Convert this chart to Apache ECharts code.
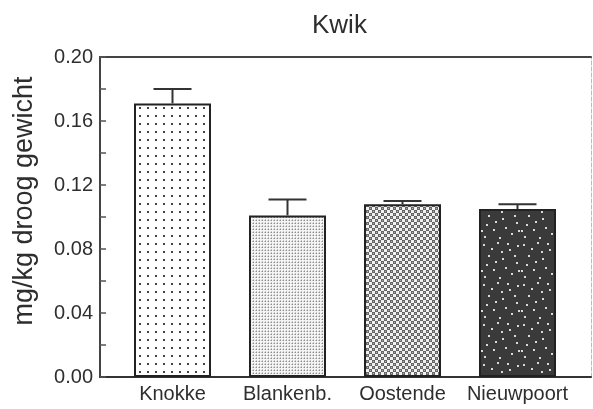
<!DOCTYPE html>
<html>
<head>
<meta charset="utf-8">
<script src="https://cdn.jsdelivr.net/npm/echarts@6/dist/echarts.min.js"></script>
<style>
  html, body { margin: 0; padding: 0; background: #fff; }
  #kwik { width: 593px; height: 409px; }
</style>
</head>
<body>
<div id="kwik"></div>
<script>
  var categories = ['Knokke', 'Blankenb.', 'Oostende', 'Nieuwpoort'];
  var means = [0.171, 0.101, 0.108, 0.105];
  var errTops = [0.180, 0.111, 0.110, 0.108];
  var yTicks = [0.00, 0.04, 0.08, 0.12, 0.16, 0.20];

  // pattern tiles drawn on small canvases
  function tile(w, h, bg, draw) {
    var c = document.createElement('canvas');
    c.width = w; c.height = h;
    var ctx = c.getContext('2d');
    ctx.fillStyle = bg;
    ctx.fillRect(0, 0, w, h);
    draw(ctx);
    return c;
  }
  var dotsSparse = tile(8, 8, '#ffffff', function (ctx) {
    ctx.fillStyle = '#444';
    ctx.fillRect(3, 3, 2, 2);
  });
  var gridFine = tile(3, 3, '#f4f4f4', function (ctx) {
    ctx.fillStyle = '#8c8c8c';
    ctx.fillRect(1, 1, 1, 1);
    ctx.fillStyle = '#c4c4c4';
    ctx.fillRect(0, 1, 1, 1);
    ctx.fillRect(1, 0, 1, 1);
  });
  var checker = tile(6, 6, '#f2f2f2', function (ctx) {
    ctx.fillStyle = '#666';
    ctx.fillRect(0, 0, 3, 3);
    ctx.fillRect(3, 3, 3, 3);
    ctx.fillStyle = '#b0b0b0';
    ctx.fillRect(1, 1, 1, 1);
    ctx.fillRect(4, 4, 1, 1);
  });
  var speckle = tile(40, 40, '#3a3a3a', function (ctx) {
    var pts = [[3,4],[17,2],[29,9],[36,22],[8,15],[22,18],[13,29],[31,33],[4,36],[25,27],[37,5],[11,8],[19,37],[34,15],[6,24],[27,3],[15,21],[38,30],[1,30],[21,11]];
    ctx.fillStyle = '#d8d8d8';
    pts.forEach(function (p) { ctx.fillRect(p[0], p[1], 2, 2); });
  });
  var fills = [dotsSparse, gridFine, checker, speckle];

  var chart = echarts.init(document.getElementById('kwik'));
  var txt = '#2e2e2e';
  var font = 'Liberation Sans, Arial, sans-serif';

  var option = {
    backgroundColor: '#fff',
    animation: false,
    title: {
      text: 'Kwik',
      left: 307,
      top: 8,
      textStyle: { color: txt, fontSize: 26, fontWeight: 'normal', fontFamily: font }
    },
    grid: [
      { left: 100, right: 2, top: 57, bottom: 32 },
      { left: 115, width: 460, top: 57, bottom: 32 }
    ],
    xAxis: [
      {
        gridIndex: 0, type: 'value', position: 'bottom', min: 0, max: 1,
        axisLine: { show: true, onZero: false, lineStyle: { color: '#333', width: 2 } },
        axisTick: { show: false }, axisLabel: { show: false }, splitLine: { show: false }
      },
      {
        gridIndex: 0, type: 'value', position: 'top', min: 0, max: 1,
        axisLine: { show: true, onZero: false, lineStyle: { color: '#444', width: 2 } },
        axisTick: { show: false }, axisLabel: { show: false }, splitLine: { show: false }
      },
      {
        gridIndex: 1, type: 'category', data: categories,
        axisLine: { show: false }, axisTick: { show: false },
        axisLabel: { color: txt, fontSize: 20, fontFamily: font, margin: 7, interval: 0, hideOverlap: false }
      }
    ],
    yAxis: [
      {
        gridIndex: 0, type: 'value', min: 0, max: 0.2, interval: 0.04,
        name: 'mg/kg droog gewicht', nameLocation: 'middle', nameGap: 62,
        nameTextStyle: { color: txt, fontSize: 27, fontFamily: font, padding: [0, 0, 0, 32] },
        axisLine: { show: true, onZero: false, lineStyle: { color: '#444', width: 2 } },
        axisTick: { show: true, inside: true, length: 6, lineStyle: { color: '#555', width: 1.5 } },
        minorTick: { show: true, splitNumber: 2, length: 6, lineStyle: { color: '#555', width: 1.5 } },
        axisLabel: {
          color: txt, fontSize: 20, fontFamily: font, margin: 7, padding: [7, 0, 0, 0],
          formatter: function (v) {
            var hit = yTicks.find(function (t) { return Math.abs(t - v) < 1e-9; });
            return hit === undefined ? '' : hit.toFixed(2);
          }
        },
        splitLine: { show: false }
      },
      {
        gridIndex: 0, type: 'value', position: 'right', min: 0, max: 0.2,
        axisLine: { show: true, onZero: false, lineStyle: { color: '#bbb', width: 1, type: 'dashed' } },
        axisTick: { show: false }, axisLabel: { show: false }, splitLine: { show: false }
      },
      {
        gridIndex: 1, type: 'value', min: 0, max: 0.2, show: false
      }
    ],
    series: [
      {
        type: 'bar',
        xAxisIndex: 2, yAxisIndex: 2,
        barWidth: 77,
        z: 3,
        data: means.map(function (v, i) {
          return {
            value: v,
            itemStyle: {
              color: { image: fills[i], repeat: 'repeat' },
              borderColor: '#222',
              borderWidth: 2
            }
          };
        })
      },
      {
        type: 'custom',
        xAxisIndex: 2, yAxisIndex: 2,
        z: 4,
        data: categories.map(function (c, i) { return [i, means[i], errTops[i]]; }),
        renderItem: function (params, api) {
          var x = api.coord([api.value(0), api.value(1)])[0];
          var yLow = api.coord([api.value(0), api.value(1)])[1];
          var yHigh = api.coord([api.value(0), api.value(2)])[1];
          var half = 19;
          var style = { stroke: '#333', lineWidth: 2 };
          return {
            type: 'group',
            children: [
              { type: 'line', shape: { x1: x, y1: yLow, x2: x, y2: yHigh }, style: style },
              { type: 'line', shape: { x1: x - half, y1: yHigh, x2: x + half, y2: yHigh }, style: style }
            ]
          };
        }
      }
    ]
  };
  chart.setOption(option);
</script>
</body>
</html>
